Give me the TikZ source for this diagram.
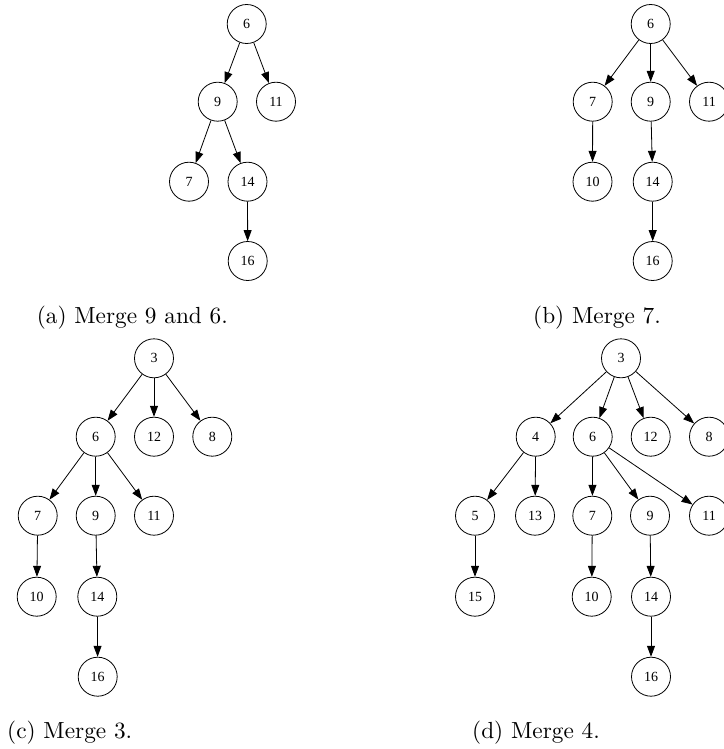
\documentclass[tikz,border=0pt]{standalone}
\usepackage{fontspec}
\usepackage{graphicx}
\newfontfamily\nodefont{Liberation Serif}
\usetikzlibrary{arrows.meta}
\newcommand{\subcap}[1]{\scalebox{2.33}{\fontsize{10}{12}\selectfont #1}}
\begin{document}
\begin{tikzpicture}[x=1pt,y=-1pt,
  tn/.style={circle,draw,line width=0.8pt,minimum size=39pt,inner sep=0pt,font=\nodefont\fontsize{14}{16}\selectfont},
  ed/.style={line width=0.8pt,-{Triangle[length=11pt,width=8pt]}},
  captext/.style={inner sep=0pt}]
\useasboundingbox (0,0) rectangle (723,749);
% (a)
\node[tn] (a6) at (246.7,24) {6};
\node[tn] (a9) at (217.7,101.7) {9};
\node[tn] (a11) at (276,101.7) {11};
\node[tn] (a7) at (189,181.7) {7};
\node[tn] (a14) at (247.5,181.7) {14};
\node[tn] (a16) at (247.7,261) {16};
\draw[ed] (a6) -- (a9);
\draw[ed] (a6) -- (a11);
\draw[ed] (a9) -- (a7);
\draw[ed] (a9) -- (a14);
\draw[ed] (a14) -- (a16);
\node[captext,anchor=base east] (capa) at (228,323) {\subcap{(a) Merge 9 and 6.}};
% (b)
\node[tn] (b6) at (650.7,24) {6};
\node[tn] (b7) at (592.7,101.7) {7};
\node[tn] (b9) at (650.7,101.7) {9};
\node[tn] (b11) at (709,101.7) {11};
\node[tn] (b10) at (592.5,181.7) {10};
\node[tn] (b14) at (652.7,181.7) {14};
\node[tn] (b16) at (652.7,261) {16};
\draw[ed] (b6) -- (b7);
\draw[ed] (b6) -- (b9);
\draw[ed] (b6) -- (b11);
\draw[ed] (b7) -- (b10);
\draw[ed] (b9) -- (b14);
\draw[ed] (b14) -- (b16);
\node[captext,anchor=base west] (capb) at (533,323) {\subcap{(b) Merge 7.}};
% (c)
\node[tn] (c3) at (154,358.3) {3};
\node[tn] (c6) at (95.7,436.7) {6};
\node[tn] (c12) at (154,436.7) {12};
\node[tn] (c8) at (212.3,436.7) {8};
\node[tn] (c7) at (37.7,515.7) {7};
\node[tn] (c9) at (95.7,515.7) {9};
\node[tn] (c11) at (154,515.7) {11};
\node[tn] (c10) at (36.7,596.7) {10};
\node[tn] (c14) at (97.3,596.7) {14};
\node[tn] (c16) at (97.7,676.7) {16};
\draw[ed] (c3) -- (c6);
\draw[ed] (c3) -- (c12);
\draw[ed] (c3) -- (c8);
\draw[ed] (c6) -- (c7);
\draw[ed] (c6) -- (c9);
\draw[ed] (c6) -- (c11);
\draw[ed] (c7) -- (c10);
\draw[ed] (c9) -- (c14);
\draw[ed] (c14) -- (c16);
\node[captext,anchor=base west] (capc) at (7,738) {\subcap{(c) Merge 3.}};
% (d)
\node[tn] (d3) at (621,358.3) {3};
\node[tn] (d4) at (535.7,436.7) {4};
\node[tn] (d6) at (592.7,436.7) {6};
\node[tn] (d12) at (650.7,436.7) {12};
\node[tn] (d8) at (709,436.7) {8};
\node[tn] (d5) at (475,515.7) {5};
\node[tn] (d13) at (535,515.7) {13};
\node[tn] (d7) at (592.3,515.7) {7};
\node[tn] (d9) at (650,515.7) {9};
\node[tn] (d11) at (709,515.7) {11};
\node[tn] (d15) at (475,596.7) {15};
\node[tn] (d10) at (591.7,596.7) {10};
\node[tn] (d14) at (651,596.7) {14};
\node[tn] (d16) at (651,676.7) {16};
\draw[ed] (d3) -- (d4);
\draw[ed] (d3) -- (d6);
\draw[ed] (d3) -- (d12);
\draw[ed] (d3) -- (d8);
\draw[ed] (d4) -- (d5);
\draw[ed] (d4) -- (d13);
\draw[ed] (d6) -- (d7);
\draw[ed] (d6) -- (d9);
\draw[ed] (d6) -- (d11);
\draw[ed] (d5) -- (d15);
\draw[ed] (d7) -- (d10);
\draw[ed] (d9) -- (d14);
\draw[ed] (d14) -- (d16);
\node[captext,anchor=base west] (capd) at (472,738) {\subcap{(d) Merge 4.}};
\end{tikzpicture}
\end{document}
